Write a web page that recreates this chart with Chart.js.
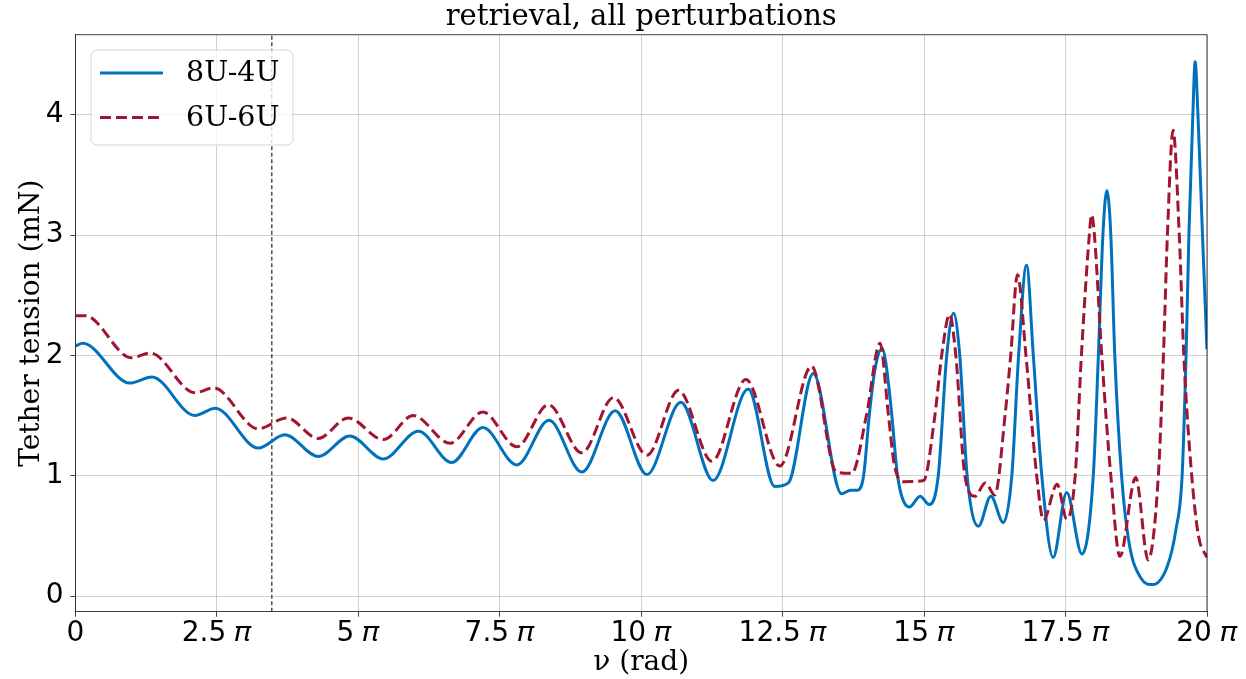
<!DOCTYPE html>
<html>
<head>
<meta charset="utf-8">
<script src="https://cdn.jsdelivr.net/npm/chart.js@4/dist/chart.umd.min.js"></script>
<style>
  html, body { margin: 0; padding: 0; background: #fff; }
  #wrap { width: 1246px; height: 679px; }
</style>
</head>
<body>
<div id="wrap"><canvas id="graph" width="1246" height="679"></canvas></div>
<script>
const colours = {
  blue: '#0072bd',
  red: '#a2142f',
  grid: 'rgba(176, 176, 176, 0.6)',
  spine: 'rgba(0, 0, 0, 0.75)',
  text: '#000',
};

const chartTitle = 'retrieval, all perturbations';
const xTitle = 'ν (rad)';
const yTitle = 'Tether tension (mN)';

// nu in units of pi
const nu8U4U = [
  0, 0.13, 0.96, 1.35, 2.11, 2.47, 3.23, 3.70, 4.29, 4.85, 5.44, 6.06, 6.65,
  7.20, 7.80, 8.37, 8.95, 9.54, 10.10, 10.70, 11.27, 11.89, 12.36, 12.60,
  13.04, 13.54, 13.70, 13.82, 13.93, 14.03, 14.13, 14.26, 14.32, 14.43, 14.53,
  14.74, 14.93, 15.09, 15.25, 15.40, 15.52, 15.63, 15.76, 15.96, 16.18, 16.40,
  16.55, 16.67, 16.81, 16.93, 17.08, 17.28, 17.52, 17.79, 17.99, 18.08, 18.16,
  18.23, 18.30, 18.37, 18.49, 18.62, 18.83, 19.04, 19.30, 19.45, 19.56, 19.63,
  19.68, 19.75, 19.79, 19.84, 19.92, 20,
];
const tension8U4U = [
  2.08, 2.10, 1.77, 1.82, 1.50, 1.56, 1.23, 1.34, 1.16, 1.33, 1.14, 1.37, 1.11,
  1.40, 1.09, 1.46, 1.03, 1.54, 1.01, 1.61, 0.96, 1.72, 0.91, 0.94,
  1.85, 0.85, 0.88, 0.88, 1.00, 1.50, 1.88, 2.06, 1.95, 1.50, 1.00,
  0.74, 0.83, 0.76, 1.00, 2.00, 2.35, 2.00, 1.00, 0.58, 0.83, 0.61,
  1.00, 2.00, 2.75, 2.00, 1.00, 0.32, 0.86, 0.35, 1.00, 2.00, 3.00,
  3.37, 3.00, 2.00, 1.00, 0.45, 0.15, 0.095, 0.25, 0.55, 1.00, 2.00,
  3.00, 4.00, 4.44, 4.00, 3.00, 2.05,
];

const nu6U6U = [
  0, 0.17, 0.99, 1.32, 2.11, 2.44, 3.23, 3.73, 4.29, 4.82, 5.44, 5.97, 6.62,
  7.20, 7.80, 8.36, 8.95, 9.51, 10.10, 10.66, 11.25, 11.85, 12.45, 13.01,
  13.45, 13.72, 13.98, 14.22, 14.37, 14.47, 14.63, 14.99, 15.19, 15.31, 15.45,
  15.56, 15.72, 15.90, 16.08, 16.25, 16.43, 16.53, 16.65, 16.80, 16.99, 17.11,
  17.35, 17.52, 17.67, 17.78, 17.92, 17.96, 18.01, 18.14, 18.30, 18.46, 18.74,
  18.96, 19.14, 19.23, 19.30, 19.40, 19.51, 19.59, 19.73, 19.85, 20,
];
const tension6U6U = [
  2.33, 2.33, 1.98, 2.02, 1.69, 1.73, 1.39, 1.48, 1.31, 1.48, 1.30, 1.50, 1.27,
  1.53, 1.24, 1.59, 1.19, 1.65, 1.17, 1.71, 1.12, 1.80, 1.08, 1.91,
  1.03, 1.02, 1.50, 2.10, 1.50, 1.10, 0.95, 0.96, 1.50, 2.00, 2.34,
  2.00, 1.00, 0.83, 0.94, 0.84, 1.50, 2.00, 2.67, 2.00, 1.00, 0.63,
  0.93, 0.64, 1.00, 2.00, 3.00, 3.17, 3.00, 2.00, 1.00, 0.33, 0.985,
  0.30, 1.00, 2.00, 3.00, 3.87, 3.00, 2.00, 1.00, 0.50, 0.32,
];

const nuMarker = 3.47;

const xTicks = [0, 2.5, 5, 7.5, 10, 12.5, 15, 17.5, 20];
const yTicks = [0, 1, 2, 3, 4];
const xRange = [0, 20];
const yRange = [-0.13, 4.665];

const points = (xs, ys) => xs.map((x, i) => ({ x, y: ys[i] }));
const formatPi = (v) => (v === 0 ? '0' : `${v} 𝜋`);

const sansFont = { family: 'DejaVu Sans', size: 28 };
const serifFont = { family: 'DejaVu Serif', size: 28, lineHeight: 1 };

const frame = {
  id: 'frame',
  afterDatasetsDraw(chart) {
    const { ctx, chartArea: a } = chart;
    ctx.save();
    ctx.strokeStyle = colours.spine;
    ctx.lineWidth = 1;
    ctx.beginPath();
    ctx.moveTo(a.left, a.top);
    ctx.lineTo(a.right, a.top);
    ctx.lineTo(a.right, a.bottom);
    ctx.stroke();
    ctx.restore();
  },
};

const titlePlugin = {
  id: 'titleCentre',
  afterDraw(chart) {
    const { ctx, chartArea: a } = chart;
    ctx.save();
    ctx.font = `29px "${serifFont.family}"`;
    ctx.fillStyle = colours.text;
    ctx.textAlign = 'center';
    ctx.textBaseline = 'alphabetic';
    ctx.fillText(chartTitle, (a.left + a.right) / 2, 25);
    ctx.restore();
  },
};

const legendPlugin = {
  id: 'legendBox',
  afterDraw(chart) {
    const { ctx } = chart;
    const items = chart.data.datasets.filter((d) => d.label);
    const box = { x: 91, y: 50, w: 202, h: 95, r: 6 };
    ctx.save();
    ctx.beginPath();
    ctx.roundRect(box.x, box.y, box.w, box.h, box.r);
    ctx.fillStyle = 'rgba(255, 255, 255, 0.8)';
    ctx.fill();
    ctx.strokeStyle = 'rgba(204, 204, 204, 0.8)';
    ctx.lineWidth = 1;
    ctx.stroke();
    items.forEach((d, i) => {
      const y = 73 + i * 44.5;
      ctx.beginPath();
      ctx.setLineDash(d.borderDash || []);
      ctx.strokeStyle = d.borderColor;
      ctx.lineWidth = d.borderWidth;
      ctx.moveTo(100, y);
      ctx.lineTo(163, y);
      ctx.stroke();
      ctx.setLineDash([]);
      ctx.font = `28.5px "${serifFont.family}"`;
      ctx.fillStyle = colours.text;
      ctx.textBaseline = 'middle';
      ctx.fillText(d.label, 186, y + 1);
    });
    ctx.restore();
  },
};

const config = {
  type: 'line',
  data: {
    datasets: [
      {
        label: '8U-4U',
        data: points(nu8U4U, tension8U4U),
        borderColor: colours.blue,
        borderWidth: 3,
        pointRadius: 0,
        cubicInterpolationMode: 'monotone',
        order: 2,
      },
      {
        label: '6U-6U',
        data: points(nu6U6U, tension6U6U),
        borderColor: colours.red,
        borderWidth: 3,
        borderDash: [11, 5],
        pointRadius: 0,
        cubicInterpolationMode: 'monotone',
        order: 1,
      },
      {
        label: '',
        data: points([nuMarker, nuMarker], yRange),
        borderColor: '#333',
        borderWidth: 1.3,
        borderDash: [4, 2.5],
        pointRadius: 0,
        order: 3,
      },
    ],
  },
  options: {
    responsive: false,
    animation: false,
    devicePixelRatio: 1,
    layout: { padding: { top: 34.7, right: 39, bottom: 0, left: 0 } },
    plugins: {
      legend: { display: false },
      tooltip: { enabled: false },
    },
    scales: {
      x: {
        type: 'linear',
        min: xRange[0],
        max: xRange[1],
        afterBuildTicks: (scale) => { scale.ticks = xTicks.map((value) => ({ value })); },
        afterFit: (scale) => { scale.height = 67.3; },
        ticks: {
          font: sansFont,
          color: colours.text,
          padding: 0,
          maxRotation: 0,
          autoSkip: false,
          callback: formatPi,
        },
        grid: { color: colours.grid, tickColor: colours.spine, tickLength: 5 },
        border: { color: colours.spine, width: 1 },
        title: {
          display: true,
          text: xTitle,
          font: serifFont,
          color: colours.text,
          padding: { top: 0, bottom: 2 },
        },
      },
      y: {
        type: 'linear',
        min: yRange[0],
        max: yRange[1],
        afterBuildTicks: (scale) => { scale.ticks = yTicks.map((value) => ({ value })); },
        afterFit: (scale) => { scale.width = 75.5; },
        ticks: {
          font: sansFont,
          color: colours.text,
          padding: 7,
        },
        grid: { color: colours.grid, tickColor: colours.spine, tickLength: 5 },
        border: { color: colours.spine, width: 1 },
        title: {
          display: true,
          text: yTitle,
          font: serifFont,
          color: colours.text,
          padding: { top: 18, bottom: 0 },
        },
      },
    },
  },
  plugins: [frame, titlePlugin, legendPlugin],
};

// eslint-disable-next-line no-new, no-undef
new Chart(document.getElementById('graph'), config);
</script>
</body>
</html>
